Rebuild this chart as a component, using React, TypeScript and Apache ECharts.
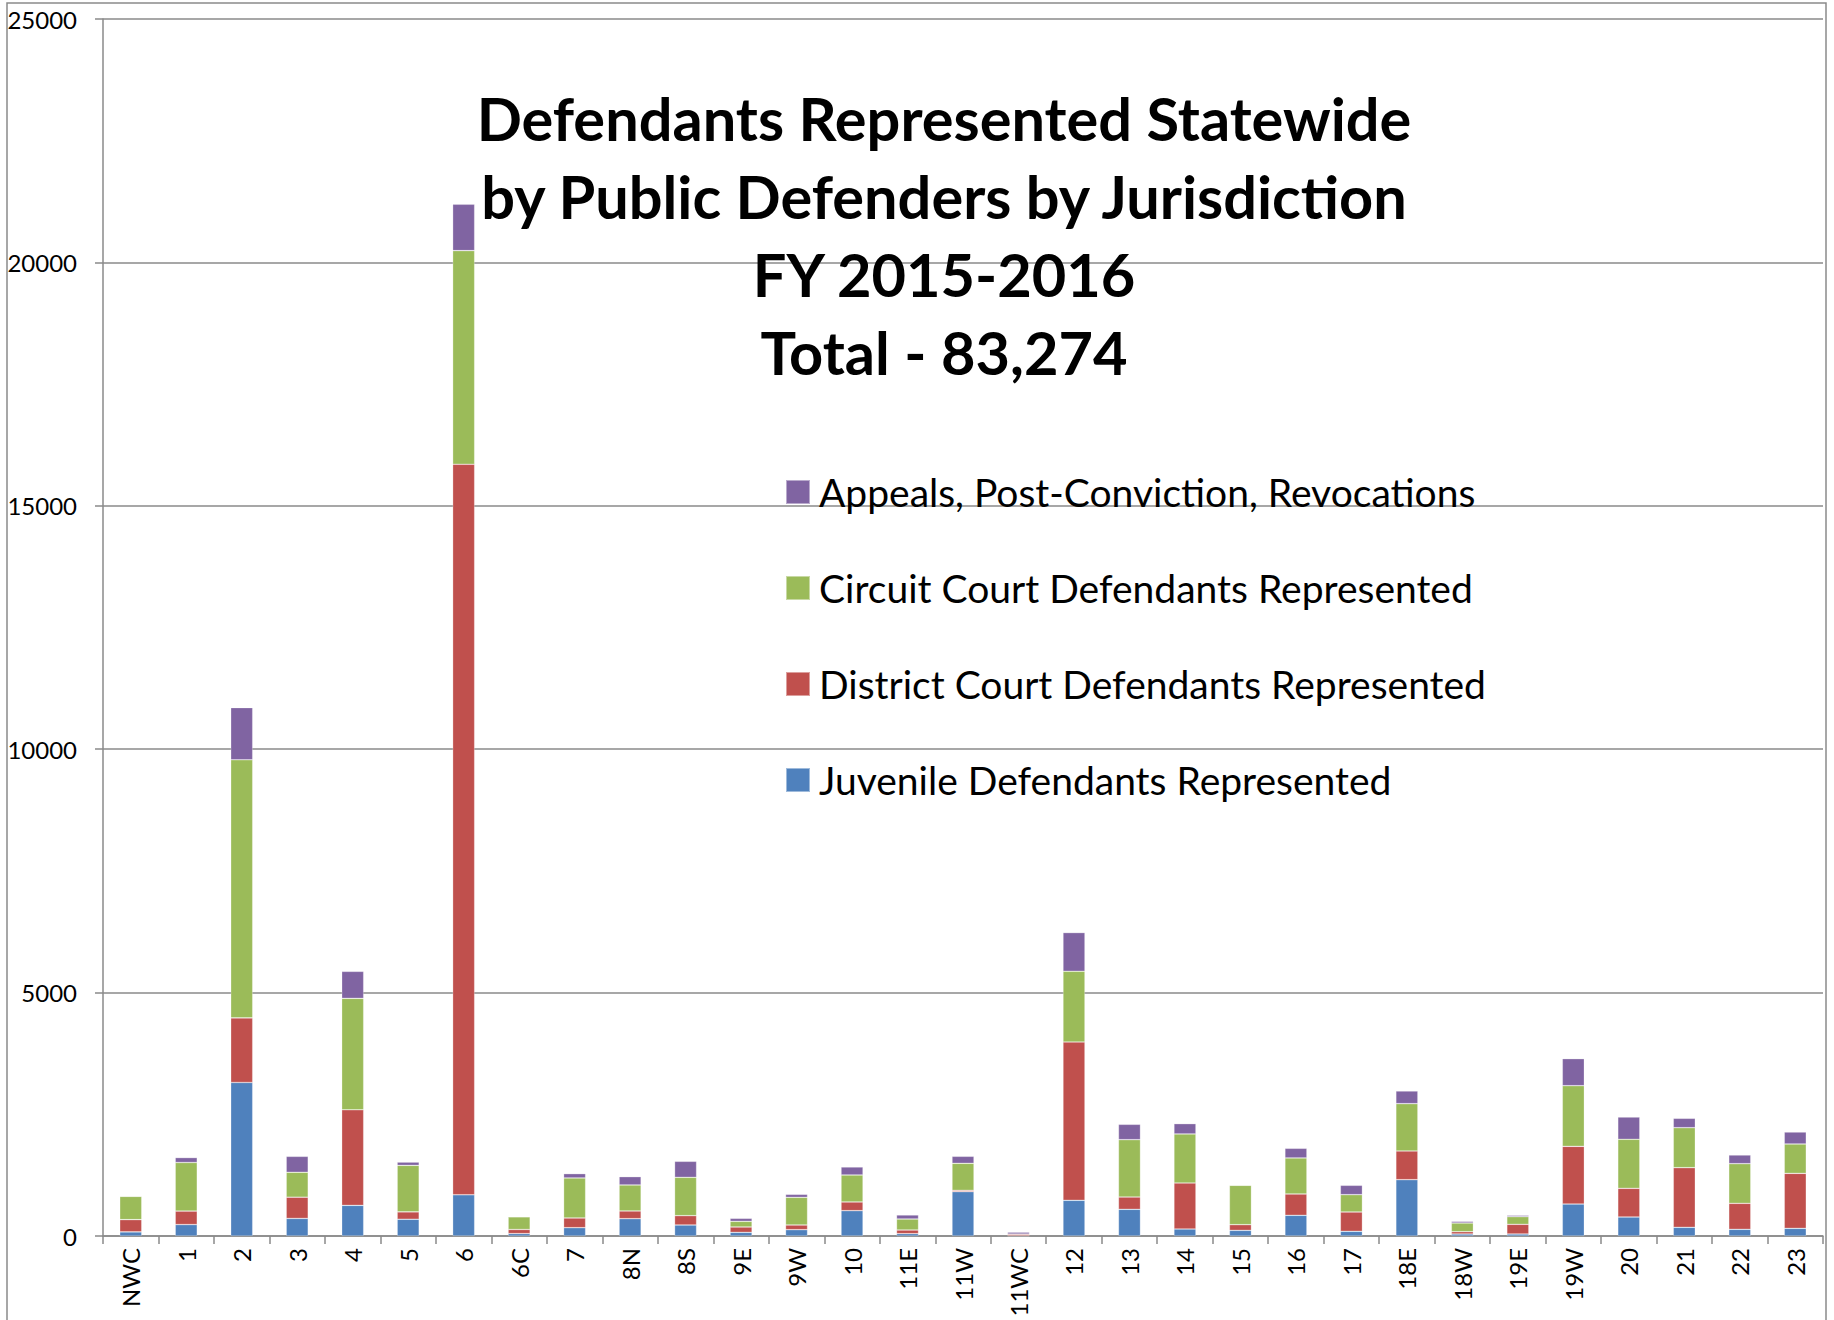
import React, { useEffect, useRef } from "react";
import * as echarts from "echarts";

const categories = ["NWC","1","2","3","4","5","6","6C","7","8N","8S","9E","9W","10","11E","11W","11WC","12","13","14","15","16","17","18E","18W","19E","19W","20","21","22","23"];

const juvenile = [84,235,3154,361,629,344,847,50,171,356,226,75,130,521,48,911,5,733,548,144,116,425,96,1157,41,41,657,390,178,137,157];
const district = [252,277,1326,436,1963,151,15006,84,199,158,192,110,96,178,75,27,30,3253,253,945,117,438,397,590,48,199,1185,589,1226,534,1130];
const circuit = [478,998,5302,512,2290,956,4389,260,822,534,787,116,568,554,226,555,5,1452,1178,1007,808,740,356,972,178,157,1246,1007,821,815,603];
const appeals = [16,101,1073,327,554,67,952,5,89,171,329,62,62,165,83,144,40,795,315,212,0,198,192,260,34,28,555,458,192,178,246];

const seriesNames = [
  "Juvenile Defendants Represented",
  "District Court Defendants Represented",
  "Circuit Court Defendants Represented",
  "Appeals, Post-Conviction, Revocations",
];
const colors = ["#4F81BD", "#C0504D", "#9BBB59", "#8064A2"];
const titleText = "Defendants Represented Statewide\nby Public Defenders by Jurisdiction\nFY 2015-2016\nTotal - 83,274";

export default function App() {
  const ref = useRef<HTMLDivElement>(null);
  useEffect(() => {
    if (!ref.current) return;
    const chart = echarts.init(ref.current, null, { renderer: "svg" });
    const data = [juvenile, district, circuit, appeals];
    const font = "Lato, 'Open Sans', sans-serif";
    chart.setOption({
      animation: false,
      backgroundColor: "#ffffff",
      title: {
        text: titleText,
        left: 939,
        top: 74,
        textAlign: "center",
        textStyle: {
          fontFamily: font,
          fontWeight: "bold",
          fontSize: 59.5,
          lineHeight: 78,
          color: "#000",
        },
      },
      legend: {
        orient: "vertical",
        left: 785,
        top: 470,
        padding: 0,
        itemWidth: 24,
        itemHeight: 24,
        itemGap: 52,
        icon: "rect",
        data: [seriesNames[3], seriesNames[2], seriesNames[1], seriesNames[0]],
        textStyle: {
          fontFamily: font,
          fontSize: 39,
          lineHeight: 44,
          color: "#000",
          padding: [0, 0, 0, 4],
        },
      },
      graphic: [
        {
          type: "rect",
          shape: { x: 7, y: 3, width: 1819, height: 1340 },
          style: { fill: "none", stroke: "#8a8a8a", lineWidth: 1.5 },
          silent: true,
        },
      ],
      grid: { left: 103, right: 11, top: 19, bottom: 84, containLabel: false },
      xAxis: {
        type: "category",
        data: categories,
        axisLine: { lineStyle: { color: "#8a8a8a", width: 1.5 } },
        axisTick: { show: true, length: 8, lineStyle: { color: "#8a8a8a", width: 1.5 } },
        axisLabel: {
          rotate: 90,
          margin: 12,
          fontFamily: font,
          fontSize: 24,
          color: "#000",
          interval: 0,
        },
      },
      yAxis: {
        type: "value",
        min: 0,
        max: 25000,
        interval: 5000,
        axisLine: { show: true, lineStyle: { color: "#8a8a8a", width: 1.5 } },
        axisTick: { show: true, length: 8, lineStyle: { color: "#8a8a8a", width: 1.5 } },
        splitLine: { show: true, lineStyle: { color: "#8a8a8a", width: 1.5 } },
        axisLabel: {
          margin: 26,
          fontFamily: font,
          fontSize: 24,
          color: "#000",
          formatter: (v: number) => String(v),
        },
      },
      series: data.map((d, i) => ({
        name: seriesNames[i],
        type: "bar",
        stack: "total",
        barWidth: 22,
        data: d,
        itemStyle: {
          color: colors[i],
          borderColor: "rgba(255,255,255,0.45)",
          borderWidth: 0.6,
        },
      })),
    });
    return () => chart.dispose();
  }, []);
  return (
    <div
      ref={ref}
      style={{ position: "absolute", left: 0, top: 0, width: 1834, height: 1320 }}
    />
  );
}
